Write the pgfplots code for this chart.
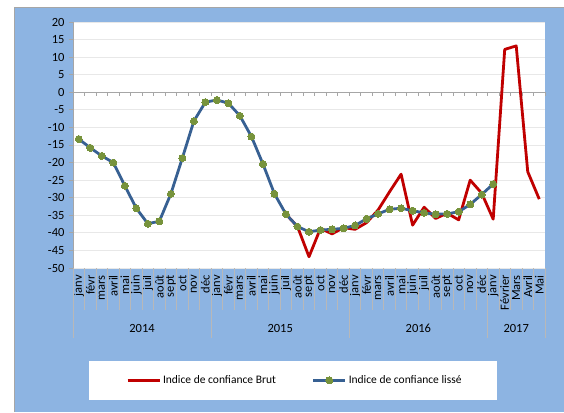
\documentclass[border=0pt]{standalone}
\usepackage{pgfplots}
\pgfplotsset{compat=1.18}
\usepackage{fontspec}
\setmainfont{Carlito}
\definecolor{bgblue}{HTML}{8DB4E2}
\definecolor{redl}{HTML}{C00000}
\definecolor{bluel}{HTML}{376092}
\definecolor{greenm}{HTML}{77933C}
\definecolor{gridc}{HTML}{E8E8E8}
\definecolor{axc}{HTML}{A6A6A6}
\definecolor{sepc}{HTML}{B8B8B8}
\pgfplotstableread{
x y
0 -13.3
1 -15.8
2 -18.1
3 -20.0
4 -26.6
5 -33.0
6 -37.4
7 -36.7
8 -28.9
9 -18.7
10 -8.2
11 -2.8
12 -2.2
13 -3.1
14 -6.7
15 -12.6
16 -20.4
17 -28.9
18 -34.7
19 -38.2
20 -39.7
21 -39.2
22 -39.0
23 -38.7
24 -37.9
25 -36.0
26 -34.6
27 -33.3
28 -33.0
29 -33.7
30 -34.3
31 -34.7
32 -34.6
33 -34.0
34 -31.9
35 -29.1
36 -26.1
}\lisse
\pgfplotstableread{
x y
18 -34.7
19 -38.2
20 -46.8
21 -38.7
22 -40.3
23 -38.5
24 -39.0
25 -37.1
26 -33.5
27 -28.3
28 -23.3
29 -37.8
30 -32.7
31 -35.9
32 -34.4
33 -36.3
34 -25.0
35 -28.7
36 -36.1
37 12.2
38 13.2
39 -22.6
40 -30.4
}\brut
\begin{document}
\begin{tikzpicture}
\path[use as bounding box] (0pt,0pt) rectangle (564pt,412pt);
\fill[bgblue] (14pt,0pt) rectangle (564pt,405pt);
\draw[axc, line width=0.8pt] (14pt,0pt) -- (14pt,405pt) -- (564pt,405pt);
\fill[white] (89pt,12pt) rectangle (497pt,51pt);
\begin{axis}[
  at={(73pt,144pt)}, anchor=south west,
  scale only axis, width=472pt, height=246pt,
  xmin=-0.5, xmax=40.5, ymin=-50, ymax=20,
  ytick={-50,-45,...,20},
  xtick={0,...,40},
  xticklabels={janv,févr,mars,avril,mai,juin,juil,août,sept,oct,nov,déc,
               janv,févr,mars,avril,mai,juin,juil,août,sept,oct,nov,déc,
               janv,févr,mars,avril,mai,juin,juil,août,sept,oct,nov,déc,
               janv,Février,Mars,Avril,Mai},
  axis lines*=left,
  axis line style={-},
  x axis line style={draw=none},
  y axis line style={axc, line width=0.8pt},
  xtick style={draw=none},
  ytick style={axc, line width=0.8pt},
  tick align=outside, major tick length=4pt,
  ymajorgrids, grid style={gridc, line width=0.8pt},
  axis background/.style={fill=white},
  clip=false,
  every tick label/.append style={font=\fontsize{12.5}{14}\selectfont, text=black},
  /pgf/number format/assume math mode=true,
  yticklabel style={xshift=-1pt},
  xticklabel style={rotate=90, anchor=east, xshift=-2pt, inner sep=1pt},
  legend columns=2,
  legend style={at={(0.1123,-0.457)}, anchor=west, draw=none, fill=none,
    inner xsep=0pt, font=\fontsize{11.5}{13}\selectfont,
    /tikz/every even column/.append style={column sep=34pt}},
  legend cell align=left,
  legend image code/.code={\draw[mark repeat=2,mark phase=2,#1] plot coordinates {(0pt,0pt) (16pt,0pt) (32pt,0pt)};},
]
\draw[axc, line width=0.8pt] (axis cs:-0.5,0) -- (axis cs:40.5,0);
\pgfplotsinvokeforeach{-0.5,0.5,...,40.5}{
  \draw[axc, line width=0.8pt] (axis cs:#1,0) -- (axis cs:#1,-1.14);
  \draw[sepc, line width=0.8pt] (axis cs:#1,-50) -- (axis cs:#1,-61.95);
}
\pgfplotsinvokeforeach{-0.5,11.5,23.5,35.5,40.5}{
  \draw[sepc, line width=0.8pt] (axis cs:#1,-50) -- (axis cs:#1,-69.9);
}
\node[font=\fontsize{12.5}{14}\selectfont] at (axis cs:5.5,-67.1) {2014};
\node[font=\fontsize{12.5}{14}\selectfont] at (axis cs:17.5,-67.1) {2015};
\node[font=\fontsize{12.5}{14}\selectfont] at (axis cs:29.5,-67.1) {2016};
\node[font=\fontsize{12.5}{14}\selectfont] at (axis cs:38,-67.1) {2017};
\addplot[redl, line width=2.8pt, line join=round] table[x=x,y=y] {\brut};
\addlegendentry{Indice de confiance Brut}
\addplot[bluel, line width=2.8pt, line join=round, mark=*, mark size=3.5pt,
  mark options={fill=greenm, draw=greenm, line width=0pt}] table[x=x,y=y] {\lisse};
\addlegendentry{Indice de confiance lissé}
\end{axis}
\end{tikzpicture}
\end{document}
